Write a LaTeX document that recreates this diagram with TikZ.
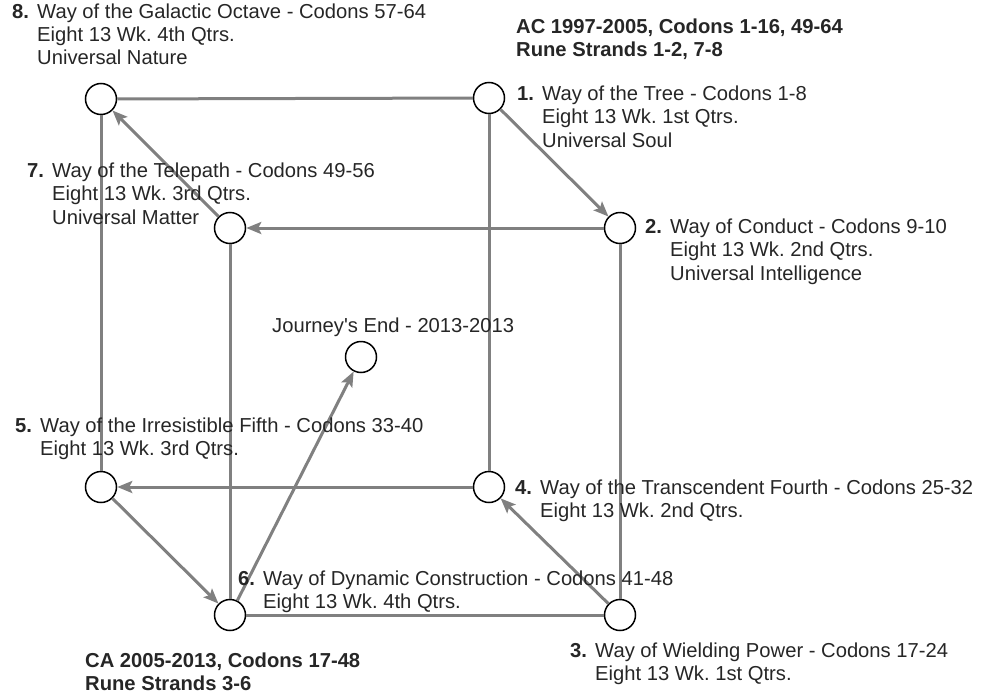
\documentclass[tikz,border=0pt]{standalone}
\usepackage{fontspec}
\setmainfont{Liberation Sans}
\usetikzlibrary{arrows.meta}
\frenchspacing
\newcommand{\waysize}{\fontsize{20.2pt}{23.5pt}\selectfont}
\newcommand{\waylines}[2]{\begin{tabular}[t]{@{}p{25pt}@{}l@{}}\textbf{#1}&#2\end{tabular}}
\tikzset{
    waynode/.style={circle, draw, line width=1.5pt, fill=white, minimum size=31pt, inner sep=0pt},
    rib/.style={draw=black!50, line width=3pt},
    flow/.style={rib, -{Stealth[length=15pt, width=12pt, inset=3pt]}},
    waylabel/.style={anchor=base west, inner sep=0pt, font=\waysize, text=black!85},
    header/.style={waylabel, font=\waysize\bfseries, align=left},
}
\begin{document}
\begin{tikzpicture}[x=1pt, y=-1pt]
    \useasboundingbox (0,0) rectangle (982,696);

    \node[waynode] (w8) at (101,99) {};
    \node[waynode] (w1) at (489,98) {};
    \node[waynode] (w7) at (230,228) {};
    \node[waynode] (w2) at (620,228) {};
    \node[waynode] (journey) at (361,357) {};
    \node[waynode] (w5) at (101,487) {};
    \node[waynode] (w4) at (489,487) {};
    \node[waynode] (w6) at (230,615) {};
    \node[waynode] (w3) at (620,615) {};

    % cube edges
    \draw[rib] (w8) -- (w1);
    \draw[rib] (w8) -- (w5);
    \draw[rib] (w1) -- (w4);
    \draw[rib] (w7) -- (w6);
    \draw[rib] (w2) -- (w3);
    \draw[rib] (w6) -- (w3);

    % the way round
    \draw[flow] (w1) -- (w2);
    \draw[flow] (w2) -- (w7);
    \draw[flow] (w7) -- (w8);
    \draw[flow] (w3) -- (w4);
    \draw[flow] (w4) -- (w5);
    \draw[flow] (w5) -- (w6);
    \draw[flow] (w6) -- (journey);

    \node[waylabel] (lbl8) at (12,18) {\waylines{8.}{Way of the Galactic Octave - Codons 57-64\\&Eight 13 Wk. 4th Qtrs.\\&Universal Nature}};
    \node[waylabel] (lbl1) at (517,100) {\waylines{1.}{Way of the Tree - Codons 1-8\\&Eight 13 Wk. 1st Qtrs.\\&Universal Soul}};
    \node[waylabel] (lbl7) at (27,177) {\waylines{7.}{Way of the Telepath - Codons 49-56\\&Eight 13 Wk. 3rd Qtrs.\\&Universal Matter}};
    \node[waylabel] (lbl2) at (645,233) {\waylines{2.}{Way of Conduct - Codons 9-10\\&Eight 13 Wk. 2nd Qtrs.\\&Universal Intelligence}};
    \node[waylabel] (lblend) at (272,332) {Journey\textquotesingle s End - 2013-2013};
    \node[waylabel] (lbl5) at (15,432) {\waylines{5.}{Way of the Irresistible Fifth - Codons 33-40\\&Eight 13 Wk. 3rd Qtrs.}};
    \node[waylabel] (lbl4) at (515,494) {\waylines{4.}{Way of the Transcendent Fourth - Codons 25-32\\&Eight 13 Wk. 2nd Qtrs.}};
    \node[waylabel] (lbl6) at (238,585) {\waylines{6.}{Way of Dynamic Construction - Codons 41-48\\&Eight 13 Wk. 4th Qtrs.}};
    \node[waylabel] (lbl3) at (570,657) {\waylines{3.}{Way of Wielding Power - Codons 17-24\\&Eight 13 Wk. 1st Qtrs.}};

    % era headers
    \node[header] (hdrAC) at (516,33) {\begin{tabular}[t]{@{}l@{}}AC 1997-2005, Codons 1-16, 49-64\\Rune Strands 1-2, 7-8\end{tabular}};
    \node[header] (hdrCA) at (85,667) {\begin{tabular}[t]{@{}l@{}}CA 2005-2013, Codons 17-48\\Rune Strands 3-6\end{tabular}};
\end{tikzpicture}
\end{document}
